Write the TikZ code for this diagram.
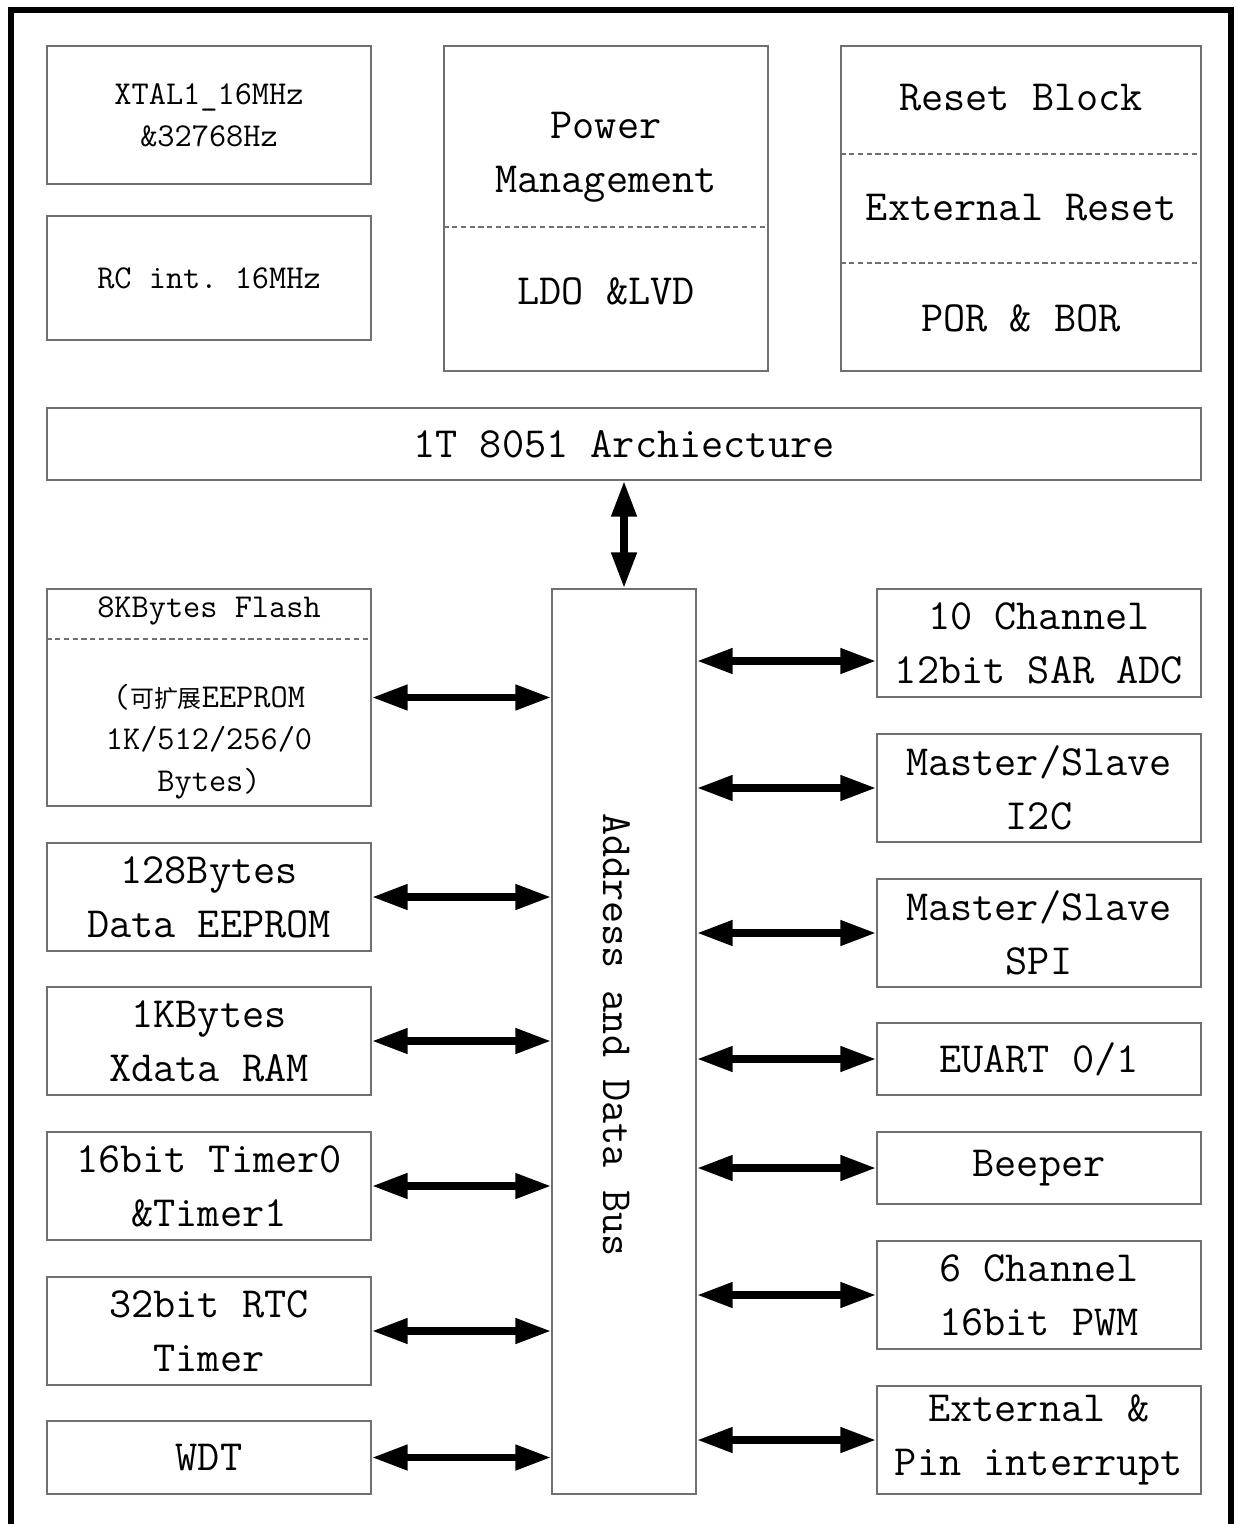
\documentclass[tikz,border=0pt]{standalone}
\usepackage{fontspec}
\newfontfamily\cjk{Noto Sans CJK SC}
\usetikzlibrary{arrows.meta}
\definecolor{boxgray}{RGB}{112,112,112}
\newcommand\fbig{\fontsize{24.5}{30.6}\selectfont\ttfamily}
\newcommand\fsmall{\fontsize{19}{24}\selectfont\ttfamily}
\begin{document}
\begin{tikzpicture}[x=0.02cm, y=-0.02cm,
  blk/.style={draw=boxgray, line width=0.85pt, inner sep=0pt, align=center},
  divider/.style={draw=boxgray, line width=0.6pt, dash pattern=on 3pt off 2pt},
  txt/.style={inner sep=0pt, align=center},
  link/.style={line width=4.3pt,
    {Triangle[length=7.2mm,width=4.8mm]}-{Triangle[length=7.2mm,width=4.8mm]}},
  frame/.style={line width=2.9pt, line join=miter}]
\useasboundingbox (0,0) rectangle (1236,1524);

% outer frame (open at the bottom)
\draw[frame] (11,1560) -- (11,10) -- (1231,10) -- (1231,1560);

% clock sources
\node[blk, font=\fsmall, minimum width=6.48cm, minimum height=2.76cm] (xtal) at (209,115) {XTAL1\_16MHz\\\&32768Hz};
\node[blk, font=\fsmall, minimum width=6.48cm, minimum height=2.48cm] (rc) at (209,278) {RC int.\ 16MHz};

% power management
\node[blk, minimum width=6.48cm, minimum height=6.5cm] (power) at (606,208.5) {};
\draw[divider] (power.west |- 0,227) -- (power.east |- 0,227);
\node[txt, font=\fbig] (pmtxt) at (606,157) {Power\\Management};
\node[txt, font=\fbig] (ldotxt) at (606,291) {LDO \&LVD};

% reset block
\node[blk, minimum width=7.2cm, minimum height=6.5cm] (reset) at (1021,208.5) {};
\draw[divider] (reset.west |- 0,154) -- (reset.east |- 0,154);
\draw[divider] (reset.west |- 0,263) -- (reset.east |- 0,263);
\node[txt, font=\fbig] (rsttxt) at (1021,98) {Reset Block};
\node[txt, font=\fbig] (exttxt) at (1021,208) {External Reset};
\node[txt, font=\fbig] (portxt) at (1021,318) {POR \& BOR};

% core and bus
\node[blk, font=\fbig, minimum width=23.08cm, minimum height=1.44cm] (core) at (624,444) {1T 8051 Archiecture};
\node[blk, minimum width=2.88cm, minimum height=18.1cm] (bus) at (624,1041.5) {};
\node[txt, font=\fbig, rotate=-90] (bustxt) at (617,1035) {Address and Data Bus};

% memories and timers
\node[blk, minimum width=6.48cm, minimum height=4.34cm] (flash) at (209,697.5) {};
\draw[divider] (flash.west |- 0,639) -- (flash.east |- 0,639);
\node[txt, font=\fsmall] (flashhd) at (209,611) {8KBytes Flash};
\node[txt, font=\fsmall] (flashtxt) at (209,742) {({\cjk\fontsize{13.6}{24}\selectfont 可扩展}EEPROM\\1K/512/256/0\\Bytes)};
\node[blk, font=\fbig, minimum width=6.48cm, minimum height=2.16cm] (eeprom) at (209,897) {128Bytes\\Data EEPROM};
\node[blk, font=\fbig, minimum width=6.48cm, minimum height=2.16cm] (xram) at (209,1041) {1KBytes\\Xdata RAM};
\node[blk, font=\fbig, minimum width=6.48cm, minimum height=2.16cm] (timer) at (209,1186) {16bit Timer0\\\&Timer1};
\node[blk, font=\fbig, minimum width=6.48cm, minimum height=2.16cm] (rtc) at (209,1331) {32bit RTC\\Timer};
\node[blk, font=\fbig, minimum width=6.48cm, minimum height=1.46cm] (wdt) at (209,1457.5) {WDT};

% peripherals
\node[blk, font=\fbig, minimum width=6.48cm, minimum height=2.16cm] (adc) at (1039,643) {10 Channel\\12bit SAR ADC};
\node[blk, font=\fbig, minimum width=6.48cm, minimum height=2.16cm] (i2c) at (1039,788) {Master/Slave\\I2C};
\node[blk, font=\fbig, minimum width=6.48cm, minimum height=2.16cm] (spi) at (1039,933) {Master/Slave\\SPI};
\node[blk, font=\fbig, minimum width=6.48cm, minimum height=1.44cm] (uart) at (1039,1059) {EUART 0/1};
\node[blk, font=\fbig, minimum width=6.48cm, minimum height=1.44cm] (beep) at (1039,1168) {Beeper};
\node[blk, font=\fbig, minimum width=6.48cm, minimum height=2.16cm] (pwm) at (1039,1295) {6 Channel\\16bit PWM};
\node[blk, font=\fbig, minimum width=6.48cm, minimum height=2.16cm] (extint) at (1039,1440) {External \&\\Pin interrupt};

% bus connections
\draw[link] (core.south) -- (bus.north);
\foreach \m in {flash,eeprom,xram,timer,rtc,wdt}
  \draw[link] (\m.east) -- (\m.east -| bus.west);
\draw[link] (bus.east |- 0,661) -- (adc.west |- 0,661);
\foreach \p in {i2c,spi,uart,beep,pwm,extint}
  \draw[link] (\p.west -| bus.east) -- (\p.west);
\end{tikzpicture}
\end{document}
